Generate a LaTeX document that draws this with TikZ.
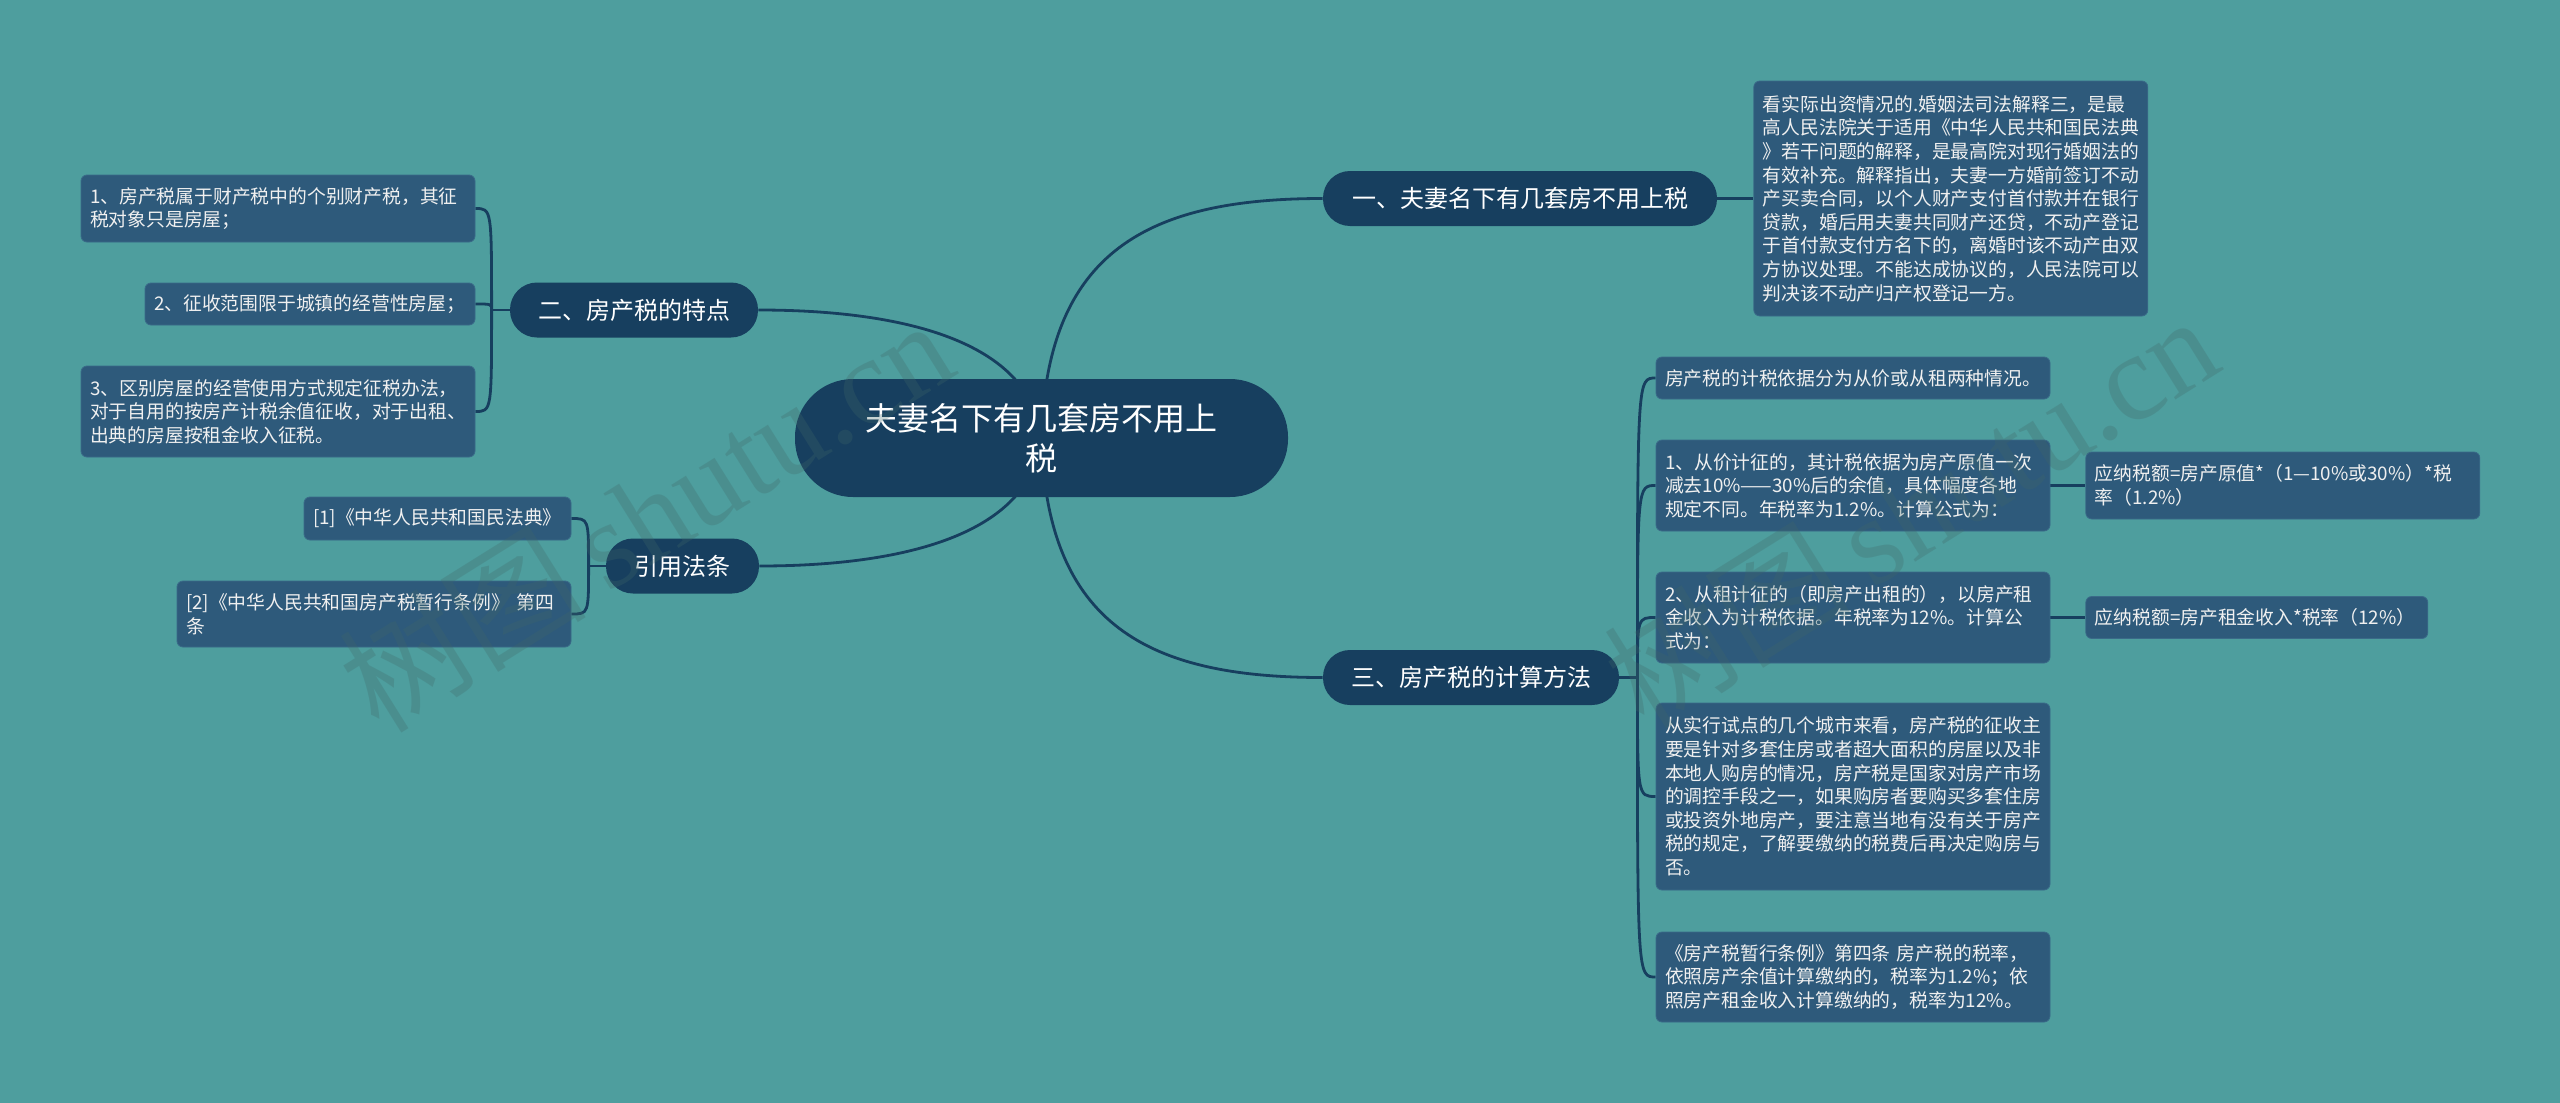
\documentclass[tikz,border=0pt]{standalone}
\usepackage{fontspec}
\setmainfont{Noto Sans CJK SC}
\newfontfamily\wmfont{Liberation Serif}
\usepackage{xcolor}
\usepackage{tikz}
\usetikzlibrary{positioning, backgrounds, calc}
\definecolor{pagebg}{HTML}{4E9E9E}
\definecolor{topicblue}{HTML}{173F5F}
\definecolor{leafblue}{HTML}{2E5A7B}
\definecolor{leafedge}{HTML}{3A6A88}
\definecolor{linkblue}{HTML}{173F5F}
\definecolor{textmain}{HTML}{FFFFFF}
\definecolor{textleaf}{HTML}{F0F0F0}
\definecolor{wmgray}{HTML}{406868}
\tikzstyle{topic} = [rectangle, rounded corners=29pt, minimum width=246.5pt, minimum height=59pt, fill=topicblue, text=textmain, align=center, font=\fontsize{16pt}{20pt}\selectfont]
\tikzstyle{subtopic} = [rectangle, rounded corners=13.5pt, minimum height=27.5pt, fill=topicblue, text=textmain, font=\fontsize{12pt}{14pt}\selectfont]
\tikzstyle{leafbox} = [rectangle, rounded corners=3pt, fill=leafblue, draw=leafedge, line width=0.4pt, text=textleaf, align=left, inner xsep=4.5pt, inner ysep=0pt, text width=188pt, font=\fontsize{9.4pt}{11.8pt}\selectfont]
\tikzstyle{linkline} = [line width=1.4pt, color=linkblue]
\tikzstyle{watermark} = [text=wmgray, opacity=0.28, inner sep=0pt, font=\fontsize{62pt}{66pt}\selectfont]

\begin{document}
\begin{tikzpicture}[x=0.5pt, y=-0.5pt]
    \node[topic] (root) at (1041.5,438) {夫妻名下有几套房不用上\\税};
    \node[subtopic, minimum width=197pt] (b1) at (1520,198.5) {一、夫妻名下有几套房不用上税};
    \node[subtopic, minimum width=124pt] (b2) at (634,310) {二、房产税的特点};
    \node[subtopic, minimum width=148pt] (b3) at (1471,677.5) {三、房产税的计算方法};
    \node[subtopic, minimum width=76.5pt] (b4) at (682.5,566) {引用法条};

    \node[leafbox, right=18pt of b1, minimum height=117.5pt] (t1) {看实际出资情况的.婚姻法司法解释三，是最\\高人民法院关于适用《中华人民共和国民法典\\》若干问题的解释，是最高院对现行婚姻法的\\有效补充。解释指出，夫妻一方婚前签订不动\\产买卖合同，以个人财产支付首付款并在银行\\贷款，婚后用夫妻共同财产还贷，不动产登记\\于首付款支付方名下的，离婚时该不动产由双\\方协议处理。不能达成协议的，人民法院可以\\判决该不动产归产权登记一方。};

    \node[leafbox, minimum height=33.5pt] (l1) at (278,208.5) {1、房产税属于财产税中的个别财产税，其征\\税对象只是房屋；};
    \node[leafbox, text width=156pt, minimum height=21pt] (l2) at (310,304) {2、征收范围限于城镇的经营性房屋；};
    \node[leafbox, minimum height=45.5pt] (l3) at (278,411.5) {3、区别房屋的经营使用方式规定征税办法，\\对于自用的按房产计税余值征收，对于出租、\\出典的房屋按租金收入征税。};

    \node[leafbox, text width=124.5pt, minimum height=21.5pt] (r1) at (437.5,518.5) {[1]《中华人民共和国民法典》};
    \node[leafbox, minimum height=33pt] (r2) at (374,614) {[2]《中华人民共和国房产税暂行条例》 第四\\条};

    \node[leafbox, minimum height=21pt] (c1) at (1853,378) {房产税的计税依据分为从价或从租两种情况。};
    \node[leafbox, minimum height=45.5pt] (c2) at (1853,485.5) {1、从价计征的，其计税依据为房产原值一次\\减去10\%——30\%后的余值，具体幅度各地\\规定不同。年税率为1.2\%。计算公式为：};
    \node[leafbox, right=17.5pt of c2, minimum height=33.5pt] (c2a) {应纳税额=房产原值*（1—10\%或30\%）*税\\率（1.2\%）};
    \node[leafbox, minimum height=45.5pt] (c3) at (1853,617.5) {2、从租计征的（即房产出租的），以房产租\\金收入为计税依据。年税率为12\%。计算公\\式为：};
    \node[leafbox, right=17.5pt of c3, text width=162pt, minimum height=21pt] (c3a) {应纳税额=房产租金收入*税率（12\%）};
    \node[leafbox, minimum height=93.5pt] (c4) at (1853,796.5) {从实行试点的几个城市来看，房产税的征收主\\要是针对多套住房或者超大面积的房屋以及非\\本地人购房的情况，房产税是国家对房产市场\\的调控手段之一，如果购房者要购买多套住房\\或投资外地房产，要注意当地有没有关于房产\\税的规定，了解要缴纳的税费后再决定购房与\\否。};
    \node[leafbox, minimum height=45pt] (c5) at (1853,977) {《房产税暂行条例》第四条 房产税的税率，\\依照房产余值计算缴纳的，税率为1.2\%；依\\照房产租金收入计算缴纳的，税率为12\%。};

    \begin{scope}[on background layer]
        \fill[pagebg] (0,0) rectangle (2560,1103);
        \draw[linkline] (root.center) .. controls +(5,-188) and +(-173,0) .. (b1.west);
        \draw[linkline] (root.center) .. controls +(5,188) and +(-173,0) .. (b3.west);
        \draw[linkline] (root.center) .. controls +(-11,-98) and +(142,0) .. (b2.east);
        \draw[linkline] (root.center) .. controls +(-11,98) and +(141,0) .. (b4.east);

        \draw[linkline] (b1.east) -- (t1.west);
        \draw[linkline] (b2.west) -- ++(-18,0) coordinate (j2);
        \foreach \n in {l1,l2,l3}
            \draw[linkline] (j2) .. controls (j2 |- \n.east) .. (\n.east);
        \draw[linkline] (b4.west) -- ++(-17,0) coordinate (j4);
        \foreach \n in {r1,r2}
            \draw[linkline] (j4) .. controls (j4 |- \n.east) .. (\n.east);
        \draw[linkline] (b3.east) -- ++(18,0) coordinate (j3);
        \foreach \n in {c1,c2,c3,c4,c5}
            \draw[linkline] (j3) .. controls (j3 |- \n.west) .. (\n.west);
        \draw[linkline] (c2.east) -- (c2a.west);
        \draw[linkline] (c3.east) -- (c3a.west);
    \end{scope}

    \node[watermark, rotate=32] (wm1) at (645,514) {树图\,{\wmfont shutu.cn}};
    \node[watermark, rotate=32] (wm2) at (1910,510) {树图\,{\wmfont shutu.cn}};
\end{tikzpicture}
\end{document}
